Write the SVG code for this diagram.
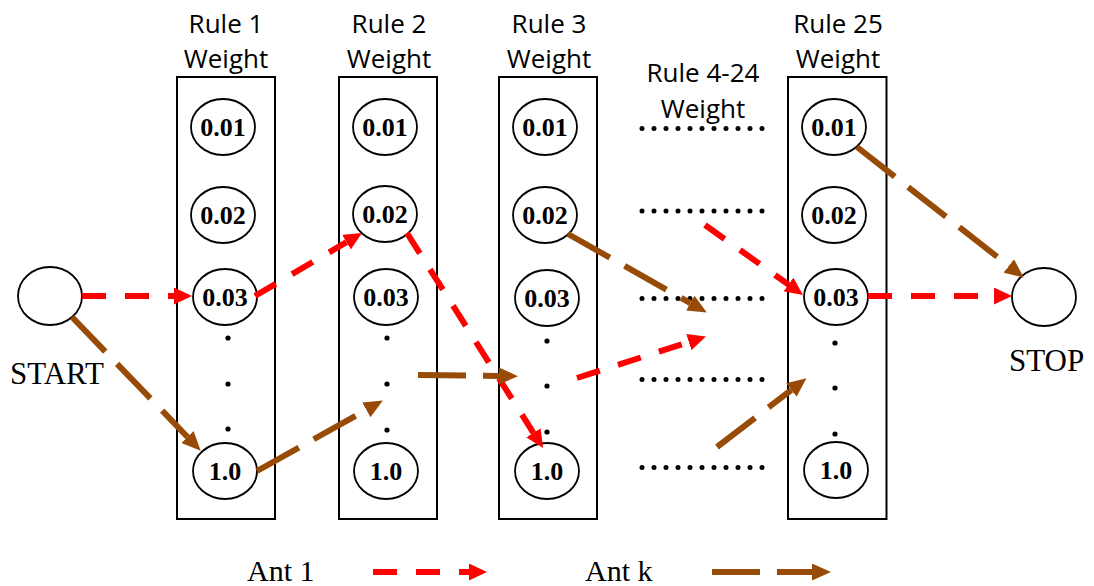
<svg xmlns="http://www.w3.org/2000/svg" width="1094" height="586" viewBox="0 0 1094 586">
<style>
.box{fill:none;stroke:#000;stroke-width:2}
.el{fill:#fff;stroke:#000;stroke-width:1.8}
.wt{font-family:"Liberation Serif","Times New Roman",serif;font-weight:bold;font-size:26px;text-anchor:middle}
.hd{font-family:"Open Sans","Noto Sans",sans-serif;font-size:26px;text-anchor:middle;fill:#000}
.tm{font-family:"Liberation Serif","Times New Roman",serif;font-size:31px;fill:#000}
.dot{fill:#000}
.row{stroke:#000;stroke-width:5;stroke-linecap:round;stroke-dasharray:0.01 11.99;fill:none}
.red{stroke:#f00;stroke-width:6;stroke-dasharray:24 19;fill:none;marker-end:url(#ar)}
.brn{stroke:#974B06;stroke-width:6;stroke-dasharray:48 17;fill:none;marker-end:url(#ab)}
</style>
<defs>
<marker id="ar" markerUnits="userSpaceOnUse" viewBox="0 0 18 17" markerWidth="18" markerHeight="17" refX="0" refY="8.5" orient="auto"><path d="M0,0 L18,8.5 L0,17 Z" fill="#f00"/></marker>
<marker id="ab" markerUnits="userSpaceOnUse" viewBox="0 0 19 17" markerWidth="19" markerHeight="17" refX="0" refY="8.5" orient="auto"><path d="M0,0 L19,8.5 L0,17 Z" fill="#974B06"/></marker>
</defs>
<rect width="1094" height="586" fill="#fff"/>

<g id="rule1">
<text class="hd" x="226" y="33">Rule 1</text>
<text class="hd" x="226" y="68">Weight</text>
<rect class="box" x="177" y="77" width="98" height="442"/>
<ellipse class="el" cx="223" cy="127" rx="32" ry="28"/><text class="wt" x="223" y="136">0.01</text>
<ellipse class="el" cx="223" cy="215" rx="32" ry="28"/><text class="wt" x="223" y="224">0.02</text>
<ellipse class="el" cx="225" cy="297" rx="32" ry="28"/><text class="wt" x="225" y="306">0.03</text>
<circle class="dot" cx="228" cy="338" r="2.6"/><circle class="dot" cx="228" cy="384" r="2.6"/><circle class="dot" cx="228" cy="429" r="2.6"/>
<ellipse class="el" cx="225" cy="471" rx="32" ry="28"/><text class="wt" x="225" y="480">1.0</text>
</g>

<g id="rule2">
<text class="hd" x="389" y="33">Rule 2</text>
<text class="hd" x="389" y="68">Weight</text>
<rect class="box" x="339" y="77" width="98" height="442"/>
<ellipse class="el" cx="385" cy="127" rx="32" ry="28"/><text class="wt" x="385" y="136">0.01</text>
<ellipse class="el" cx="385" cy="214" rx="32" ry="28"/><text class="wt" x="385" y="223">0.02</text>
<ellipse class="el" cx="386" cy="297" rx="32" ry="28"/><text class="wt" x="386" y="306">0.03</text>
<circle class="dot" cx="387" cy="338" r="2.6"/><circle class="dot" cx="387" cy="384" r="2.6"/><circle class="dot" cx="387" cy="430" r="2.6"/>
<ellipse class="el" cx="386" cy="471" rx="32" ry="28"/><text class="wt" x="386" y="480">1.0</text>
</g>

<g id="rule3">
<text class="hd" x="549" y="33">Rule 3</text>
<text class="hd" x="549" y="68">Weight</text>
<rect class="box" x="499" y="77" width="98" height="442"/>
<ellipse class="el" cx="545" cy="127" rx="32" ry="28"/><text class="wt" x="545" y="136">0.01</text>
<ellipse class="el" cx="545" cy="215" rx="32" ry="28"/><text class="wt" x="545" y="224">0.02</text>
<ellipse class="el" cx="547" cy="298" rx="32" ry="28"/><text class="wt" x="547" y="307">0.03</text>
<circle class="dot" cx="547" cy="341" r="2.6"/><circle class="dot" cx="547" cy="386" r="2.6"/><circle class="dot" cx="547" cy="432" r="2.6"/>
<ellipse class="el" cx="547" cy="471" rx="32" ry="28"/><text class="wt" x="547" y="480">1.0</text>
</g>

<g id="rule4-24">
<text class="hd" x="703" y="82">Rule 4-24</text>
<text class="hd" x="703" y="118">Weight</text>
<path class="row" d="M642,128.5 H765 M642,211 H765 M642,298.5 H765 M642,379.5 H765 M642,467.5 H765"/>
</g>

<g id="rule25">
<text class="hd" x="838" y="33">Rule 25</text>
<text class="hd" x="838" y="68">Weight</text>
<rect class="box" x="788" y="77" width="98.5" height="442"/>
<ellipse class="el" cx="834" cy="127" rx="32" ry="28"/><text class="wt" x="834" y="136">0.01</text>
<ellipse class="el" cx="834" cy="215" rx="32" ry="28"/><text class="wt" x="834" y="224">0.02</text>
<ellipse class="el" cx="836" cy="297" rx="32" ry="28"/><text class="wt" x="836" y="306">0.03</text>
<circle class="dot" cx="835" cy="343" r="2.6"/><circle class="dot" cx="835" cy="388" r="2.6"/><circle class="dot" cx="835" cy="434" r="2.6"/>
<ellipse class="el" cx="836" cy="470" rx="32" ry="28"/><text class="wt" x="836" y="479">1.0</text>
</g>

<g id="start">
<ellipse class="el" cx="50" cy="296" rx="32" ry="29"/>
<text class="tm" x="10" y="384">START</text>
</g>

<g id="stop">
<ellipse class="el" cx="1044" cy="297" rx="32" ry="29"/>
<text class="tm" x="1009" y="371">STOP</text>
</g>

<g id="connectors">
<line class="red" x1="82" y1="296" x2="174" y2="296"/>
<line class="red" x1="255" y1="296" x2="346.5" y2="242.1"/>
<line class="red" x1="407" y1="233" x2="533.4" y2="432.8"/>
<line class="red" x1="577" y1="378" x2="688.8" y2="342.1"/>
<line class="red" x1="705" y1="225" x2="788.4" y2="284.5"/>
<line class="red" x1="868" y1="296" x2="994" y2="296"/>

<line class="brn" x1="72" y1="317" x2="187.5" y2="437"/>
<line class="brn" x1="257" y1="471" x2="366.3" y2="409.8"/>
<line class="brn" x1="418" y1="375" x2="499" y2="376"/>
<line class="brn" x1="568" y1="234" x2="690.3" y2="303.1"/>
<line class="brn" x1="717" y1="447" x2="791.4" y2="389.9"/>
<line class="brn" x1="857" y1="147" x2="1008.8" y2="265.9"/>
</g>

<g id="legend">
<text class="tm" x="247" y="581" style="font-size:30px">Ant 1</text>
<line class="red" x1="373" y1="572" x2="469" y2="572"/>
<text class="tm" x="585" y="581" style="font-size:30px">Ant k</text>
<line class="brn" x1="712" y1="572" x2="812" y2="572"/>
</g>
</svg>
